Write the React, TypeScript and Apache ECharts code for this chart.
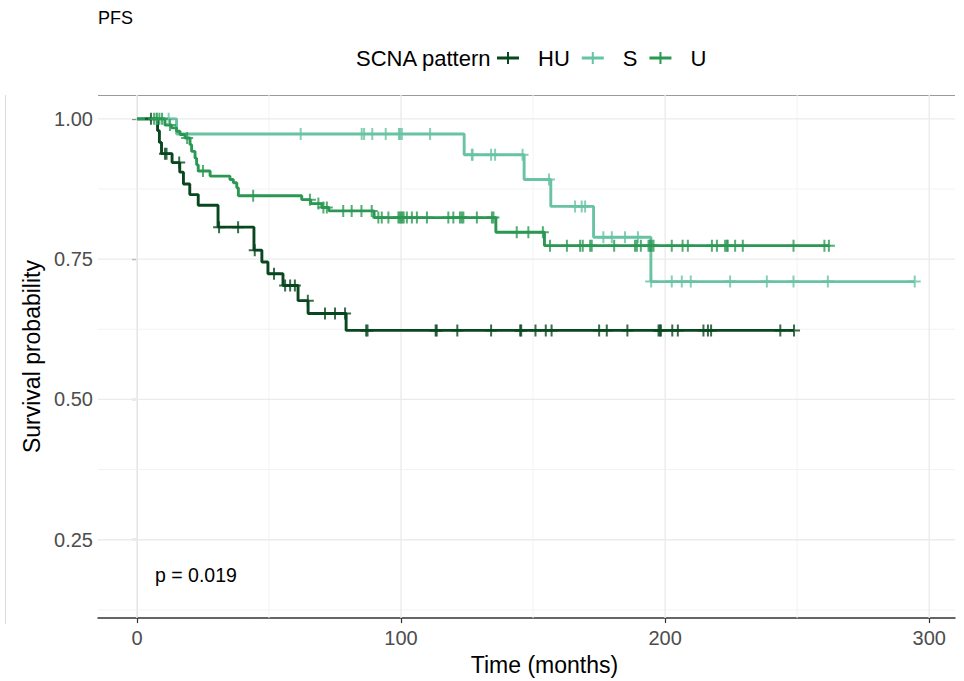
import React, { useEffect, useRef } from "react";
import * as echarts from "echarts";

// ---------------- data ----------------
const groups = ["HU", "S", "U"];
const groupColors = ["#08471f", "#68c3a2", "#2a9853"];

const huEventTimes = [7.8, 8.5, 9.3, 13.3, 16.2, 17.6, 20.0, 23.2, 30.7, 44.3, 47.3, 49.6, 55.3, 61.0, 64.8, 79.2];
const huEventSurv = [0.979, 0.958, 0.938, 0.922, 0.905, 0.884, 0.865, 0.846, 0.807, 0.766, 0.745, 0.724, 0.703, 0.676, 0.653, 0.623];
const huCensorTimes = [5.3, 10.6, 11.2, 16.0, 31.1, 38.3, 44.6, 51.9, 56.1, 58.0, 59.8, 64.7, 71.2, 75.0, 78.8, 86.8, 87.3,
  113.1, 113.5, 121.3, 134.1, 145.1, 145.5, 150.9, 154.8, 157.0, 175.0, 177.9, 185.7, 197.5, 198.0, 198.4, 202.7, 204.8,
  214.5, 216.2, 217.4, 243.6, 248.8];

const sEventTimes = [15.0, 123.9, 146.6, 156.7, 172.9, 194.6];
const sEventSurv = [0.973, 0.936, 0.892, 0.844, 0.789, 0.710];
const sCensorTimes = [7.5, 12.0, 62.0, 85.1, 86.0, 89.1, 94.2, 99.2, 99.6, 100.3, 111.0, 126.8, 127.1, 134.1, 135.6, 146.0,
  156.0, 165.9, 168.4, 169.7, 176.6, 179.8, 184.8, 189.7, 194.7, 202.5, 206.3, 209.7, 224.6, 238.5, 248.6, 261.6, 294.5];

const uEventTimes = [10.6, 13.1, 15.0, 16.3, 18.2, 20.1, 20.7, 22.0, 22.6, 23.2, 27.7, 35.2, 36.5, 37.8, 38.4, 62.4, 65.8, 70.0, 72.7, 89.8, 135.9, 154.3];
const uEventSurv = [0.989, 0.984, 0.978, 0.972, 0.966, 0.954, 0.942, 0.930, 0.918, 0.907, 0.898, 0.892, 0.886, 0.877, 0.863, 0.856, 0.849, 0.842, 0.836, 0.824, 0.798, 0.774];
const uCensorTimes = [6.5, 7.5, 8.5, 9.5, 12.5, 19.0, 25.0, 44.0, 65.5, 68.7, 70.6, 71.9, 78.1, 81.3, 85.0, 88.9, 91.4, 92.7,
  95.2, 99.0, 99.5, 100.0, 100.5, 101.0, 102.2, 104.1, 106.0, 109.8, 117.9, 119.8, 122.3, 123.0, 123.6, 128.7, 134.4, 135.0,
  143.8, 148.2, 153.7, 156.4, 162.8, 167.8, 168.8, 171.6, 172.2, 180.7, 188.6, 189.3, 190.8, 193.7, 194.3, 194.9, 195.6,
  202.5, 206.6, 208.6, 217.7, 219.6, 222.7, 223.4, 223.7, 226.5, 229.4, 248.6, 260.3, 262.0];

const xTicks = [0, 100, 200, 300];
const yTicks = [0.25, 0.5, 0.75, 1.0];
const xMinorGrid = [50, 150, 250];
const yMinorGrid = [0.125, 0.375, 0.625, 0.875];
const pValueText = "p = 0.019";

// ---------------- helpers ----------------
const X_MIN = -14.75;
const X_MAX = 309.75;
const Y_MIN = 0.1103;
const Y_MAX = 1.0425;
const FONT = "'Liberation Sans', Arial, Helvetica, sans-serif";

const PLUS = "path://M-1,-6L1,-6L1,-1L6,-1L6,1L1,1L1,6L-1,6L-1,1L-6,1L-6,-1L-1,-1Z";
const LEGEND_PLUS = "path://M-11,-1.4L-1,-1.4L-1,-6L1,-6L1,-1.4L11,-1.4L11,1.4L1,1.4L1,6L-1,6L-1,1.4L-11,1.4Z";

function levelAt(times: number[], surv: number[], t: number) {
  let s = 1;
  for (let i = 0; i < times.length; i++) if (times[i] <= t) s = surv[i];
  return s;
}

function stepData(times: number[], surv: number[], censor: number[]) {
  const end = Math.max(...censor, times[times.length - 1]);
  const d: number[][] = [[0, 1]];
  times.forEach((t, i) => d.push([t, surv[i]]));
  d.push([end, surv[surv.length - 1]]);
  return d;
}

const groupData = [
  { times: huEventTimes, surv: huEventSurv, censor: huCensorTimes },
  { times: sEventTimes, surv: sEventSurv, censor: sCensorTimes },
  { times: uEventTimes, surv: uEventSurv, censor: uCensorTimes },
];

export default function App() {
  const ref = useRef<HTMLDivElement>(null);

  useEffect(() => {
    if (!ref.current) return;
    const chart = echarts.init(ref.current, undefined, { renderer: "svg" });

    const gridData: number[][] = [];
    xMinorGrid.forEach((v) => gridData.push([0, v, 0]));
    yMinorGrid.forEach((v) => gridData.push([1, v, 0]));
    xTicks.forEach((v) => gridData.push([0, v, 1]));
    yTicks.forEach((v) => gridData.push([1, v, 1]));

    const lineSeries = groups.map((name, i) => ({
      name,
      type: "line",
      step: "end",
      data: stepData(groupData[i].times, groupData[i].surv, groupData[i].censor),
      showSymbol: false,
      symbol: "none",
      color: groupColors[i],
      lineStyle: { color: groupColors[i], width: 2.9 },
      z: 3,
      silent: true,
    }));

    const censorSeries = groups.map((name, i) => ({
      name,
      type: "scatter",
      data: groupData[i].censor.map((t) => [t, levelAt(groupData[i].times, groupData[i].surv, t)]),
      symbol: PLUS,
      symbolSize: 12,
      color: groupColors[i],
      itemStyle: { color: groupColors[i] },
      z: 4,
      silent: true,
    }));

    chart.setOption({
      animation: false,
      grid: { left: 98, right: 9, top: 95, bottom: 59, containLabel: false },
      xAxis: {
        type: "value",
        min: X_MIN,
        max: X_MAX,
        splitLine: { show: false },
        axisLine: { show: true, lineStyle: { color: "#333333", width: 1.5 } },
        axisTick: { show: true, customValues: xTicks, length: 5, lineStyle: { color: "#333333", width: 1.2 } },
        axisLabel: { customValues: xTicks, fontSize: 20, color: "#4d4d4d", fontFamily: FONT, margin: 10 },
        name: "Time (months)",
        nameLocation: "middle",
        nameGap: 31,
        nameTextStyle: { fontSize: 23, color: "#000000", fontFamily: FONT, padding: [0, 0, 0, 36] },
      },
      yAxis: {
        type: "value",
        min: Y_MIN,
        max: Y_MAX,
        splitLine: { show: false },
        axisLine: { show: true, lineStyle: { color: "#d9d9d9", width: 1 } },
        axisTick: { show: true, customValues: yTicks, length: 5, lineStyle: { color: "#333333", width: 1.2 } },
        axisLabel: {
          customValues: yTicks,
          fontSize: 20,
          color: "#4d4d4d",
          fontFamily: FONT,
          margin: 5,
          formatter: (v: number) => v.toFixed(2),
        },
        name: "Survival probability",
        nameLocation: "middle",
        nameGap: 55,
        nameTextStyle: { fontSize: 23, color: "#000000", fontFamily: FONT },
      },
      legend: {
        data: groups.map((name) => ({ name, icon: LEGEND_PLUS })),
        left: 497,
        top: 47,
        itemWidth: 22,
        itemHeight: 12,
        itemGap: 12,
        padding: 0,
        selectedMode: false,
        textStyle: { fontSize: 22, color: "#000000", fontFamily: FONT, padding: [0, 0, 0, 14] },
      },
      graphic: [
        {
          type: "text",
          left: 98,
          top: 9,
          style: { text: "PFS", fontSize: 18, fill: "#000000", fontFamily: FONT },
        },
        {
          type: "text",
          left: 356,
          top: 47,
          style: { text: "SCNA pattern", fontSize: 22, fill: "#000000", fontFamily: FONT },
        },
        {
          type: "text",
          left: 155,
          top: 565,
          style: { text: pValueText, fontSize: 19.5, fill: "#000000", fontFamily: FONT },
        },
        {
          type: "line",
          shape: { x1: 98, y1: 95.5, x2: 955, y2: 95.5 },
          style: { stroke: "#9a9a9a", lineWidth: 1 },
        },
        {
          type: "line",
          shape: { x1: 5.5, y1: 95, x2: 5.5, y2: 624 },
          style: { stroke: "#dcdcdc", lineWidth: 1 },
        },
      ],
      series: [
        {
          type: "custom",
          silent: true,
          z: 1,
          data: gridData,
          renderItem: (_params: any, api: any) => {
            const o = api.value(0);
            const v = api.value(1);
            const major = api.value(2);
            const p1 = o === 0 ? api.coord([v, Y_MIN]) : api.coord([X_MIN, v]);
            const p2 = o === 0 ? api.coord([v, Y_MAX]) : api.coord([X_MAX, v]);
            return {
              type: "line",
              shape: { x1: p1[0], y1: p1[1], x2: p2[0], y2: p2[1] },
              style: { stroke: major ? "#ebebeb" : "#f3f3f3", lineWidth: major ? 1.4 : 1 },
            };
          },
        },
        ...lineSeries,
        ...censorSeries,
      ],
    });

    return () => chart.dispose();
  }, []);

  return (
    <div
      ref={ref}
      style={{ position: "fixed", left: 0, top: 0, width: 964, height: 681, background: "#ffffff" }}
    />
  );
}
